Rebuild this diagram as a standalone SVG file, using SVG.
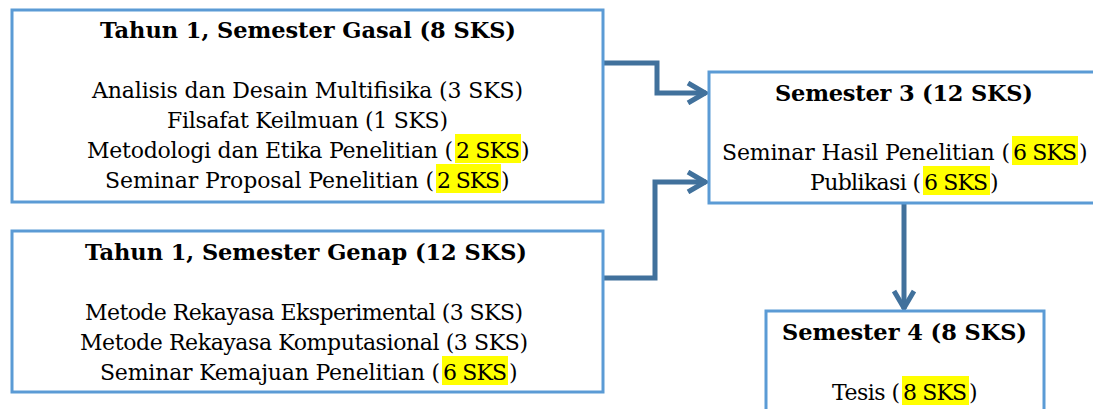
<svg xmlns="http://www.w3.org/2000/svg" width="1093" height="409" viewBox="0 0 1093 409">
  <style>
    .box { fill: #ffffff; stroke: #5B9BD5; stroke-width: 3; }
    .t { font-family: "DejaVu Serif", "Liberation Serif", serif; font-size: 22px; fill: #000000; }
    .b { font-weight: bold; font-size: 22.5px; }
    .hl { fill: #FFFF00; }
    .c { fill: none; stroke: #41719C; stroke-width: 5; }
  </style>
  <defs>
    <marker id="chev" viewBox="-22 -12 24 24" refX="0" refY="0" markerWidth="24" markerHeight="24" markerUnits="userSpaceOnUse" orient="auto">
      <path d="M-18,-10 L-1,0 L-18,10" fill="none" stroke="#41719C" stroke-width="5" stroke-linejoin="miter"/>
    </marker>
  </defs>
  <rect width="1093" height="409" fill="#ffffff"/>

  <g id="connectors">
    <path class="c" d="M604,63 H657 V93 H706" marker-end="url(#chev)"/>
    <path class="c" d="M604,278 H655 V182 H706" marker-end="url(#chev)"/>
    <path class="c" d="M904,204 V309" marker-end="url(#chev)"/>
  </g>

  <g id="node-semester-gasal">
    <rect class="box" x="12" y="10" width="591" height="192"/>
    <rect class="hl" x="455" y="134" width="66" height="29"/>
    <rect class="hl" x="436" y="164" width="65" height="29"/>
    <text class="t b" x="100" y="38" textLength="416">Tahun 1, Semester Gasal (8 SKS)</text>
    <text class="t" x="92" y="98" textLength="431">Analisis dan Desain Multifisika (3 SKS)</text>
    <text class="t" x="167" y="128" textLength="281">Filsafat Keilmuan (1 SKS)</text>
    <text class="t" y="158"><tspan x="87" textLength="366">Metodologi dan Etika Penelitian (</tspan><tspan x="456" textLength="64">2 SKS</tspan><tspan x="521">)</tspan></text>
    <text class="t" y="188"><tspan x="105" textLength="329">Seminar Proposal Penelitian (</tspan><tspan x="437" textLength="63">2 SKS</tspan><tspan x="501">)</tspan></text>
  </g>

  <g id="node-semester-genap">
    <rect class="box" x="12" y="231" width="591" height="161"/>
    <rect class="hl" x="442" y="356" width="66" height="29"/>
    <text class="t b" x="85" y="260" textLength="442">Tahun 1, Semester Genap (12 SKS)</text>
    <text class="t" x="85" y="320" textLength="438">Metode Rekayasa Eksperimental (3 SKS)</text>
    <text class="t" x="80" y="350" textLength="448">Metode Rekayasa Komputasional (3 SKS)</text>
    <text class="t" y="380"><tspan x="100" textLength="340">Seminar Kemajuan Penelitian (</tspan><tspan x="443" textLength="64">6 SKS</tspan><tspan x="509">)</tspan></text>
  </g>

  <g id="node-semester-3">
    <rect class="box" x="709" y="72" width="400" height="131"/>
    <rect class="hl" x="1012" y="136" width="66" height="29"/>
    <rect class="hl" x="923" y="166" width="67" height="29"/>
    <text class="t b" x="775" y="101" textLength="258">Semester 3 (12 SKS)</text>
    <text class="t" y="160"><tspan x="722" textLength="288">Seminar Hasil Penelitian (</tspan><tspan x="1013" textLength="64">6 SKS</tspan><tspan x="1079">)</tspan></text>
    <text class="t" y="190"><tspan x="810" textLength="111">Publikasi (</tspan><tspan x="924" textLength="64">6 SKS</tspan><tspan x="990">)</tspan></text>
  </g>

  <g id="node-semester-4">
    <rect class="box" x="766" y="311" width="278" height="110"/>
    <rect class="hl" x="902" y="376" width="67" height="29"/>
    <text class="t b" x="782" y="340" textLength="245">Semester 4 (8 SKS)</text>
    <text class="t" y="400"><tspan x="832" textLength="68">Tesis (</tspan><tspan x="903" textLength="64">8 SKS</tspan><tspan x="969">)</tspan></text>
  </g>
</svg>
